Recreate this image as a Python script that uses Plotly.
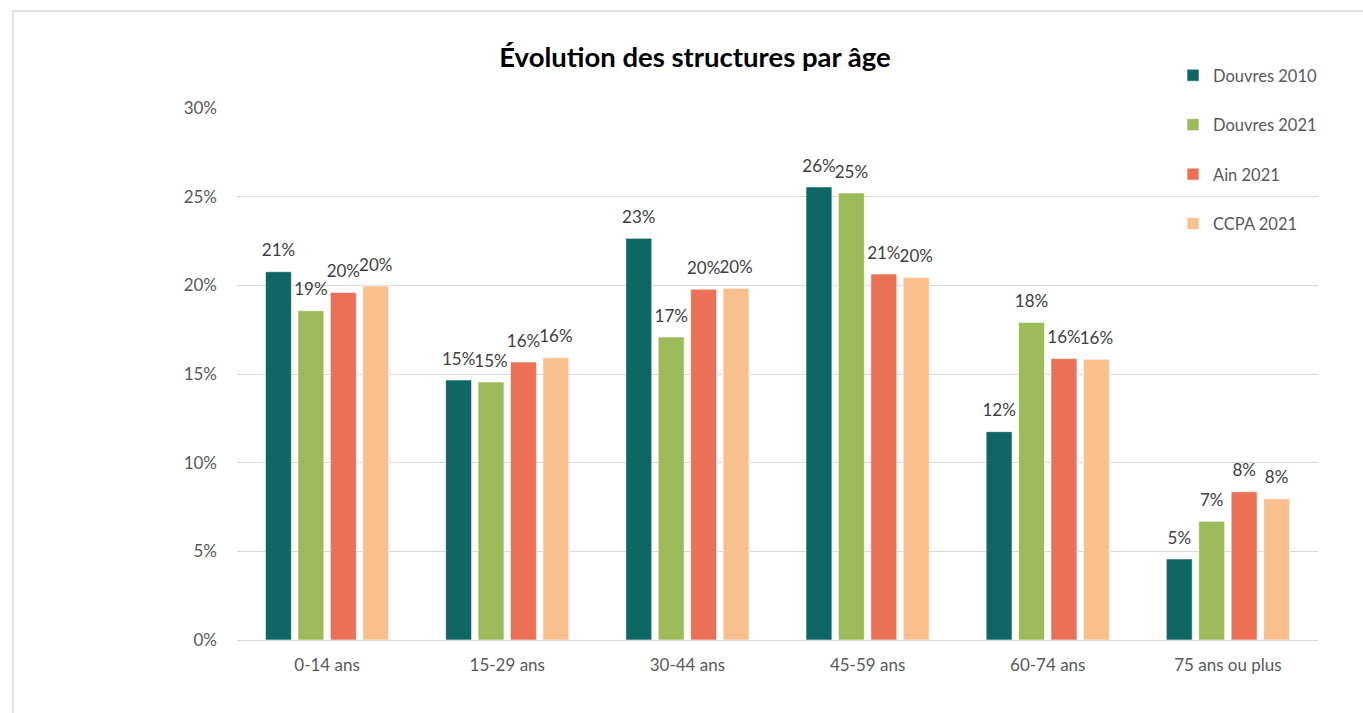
import plotly.graph_objects as go

categories = ["0-14 ans", "15-29 ans", "30-44 ans", "45-59 ans", "60-74 ans", "75 ans ou plus"]
douvres_2010 = [0.2077, 0.1466, 0.2265, 0.2555, 0.1175, 0.0457]
douvres_2021 = [0.1857, 0.1455, 0.1709, 0.2521, 0.1791, 0.0669]
ain_2021 = [0.1960, 0.1568, 0.1978, 0.2064, 0.1587, 0.0836]
ccpa_2021 = [0.1996, 0.1592, 0.1983, 0.2045, 0.1583, 0.0797]
series_names = ["Douvres 2010", "Douvres 2021", "Ain 2021", "CCPA 2021"]
colors = ["#0E6763", "#9BBB59", "#EC7055", "#F9C08E"]

FONT = "Lato, 'Open Sans', sans-serif"

fig = go.Figure()
for name, vals, col in zip(series_names, [douvres_2010, douvres_2021, ain_2021, ccpa_2021], colors):
    fig.add_trace(go.Bar(
        x=categories, y=vals, name=name, legendgroup=name,
        marker=dict(color=col, line=dict(color="rgba(255,255,255,0.6)", width=1)),
        texttemplate="<span style='font-size:17px'>%{y:.0%}</span><br> ",
        textposition="outside", cliponaxis=False, constraintext="none",
        textfont=dict(size=8, color="#404040", family=FONT),
    ))

fig.update_layout(
    width=1363, height=713,
    margin=dict(l=237, r=45, t=108, b=73),
    paper_bgcolor="white", plot_bgcolor="white",
    font=dict(family=FONT, color="#595959", size=16),
    barmode="group", bargap=0.28, bargroupgap=0.2,
    title=dict(text="<b>Évolution des structures par âge</b>", x=695 / 1363, xanchor="center",
               xref="container", yref="container", y=1 - 57 / 713, yanchor="middle",
               font=dict(size=27.5, color="#000000", family=FONT)),
    legend=dict(x=(1173 - 237) / 1081, y=(640 - 58) / 532, xanchor="left", yanchor="top",
                bgcolor="rgba(0,0,0,0)",
                font=dict(size=16.5, color="#595959", family=FONT), tracegroupgap=25,
                traceorder="grouped", itemwidth=30),
    showlegend=True,
)
fig.update_yaxes(range=[0, 0.30], dtick=0.05, tickformat=".0%", showgrid=True,
                 gridcolor="#D9D9D9", gridwidth=1, zeroline=False, showline=False,
                 ticks="", ticklabelstandoff=19, tickfont=dict(size=17, color="#595959"))
fig.update_xaxes(showline=True, linecolor="#D9D9D9", linewidth=1, ticks="",
                 ticklabelstandoff=10, tickfont=dict(size=17, color="#595959"))

fig.add_shape(type="rect", xref="paper", yref="paper",
              x0=(13 - 237) / 1081, x1=1.3, y0=-0.5, y1=(640 - 11) / 532,
              line=dict(color="#D9D9D9", width=1.5), fillcolor="rgba(0,0,0,0)", layer="below")

fig.write_html("out.html")
